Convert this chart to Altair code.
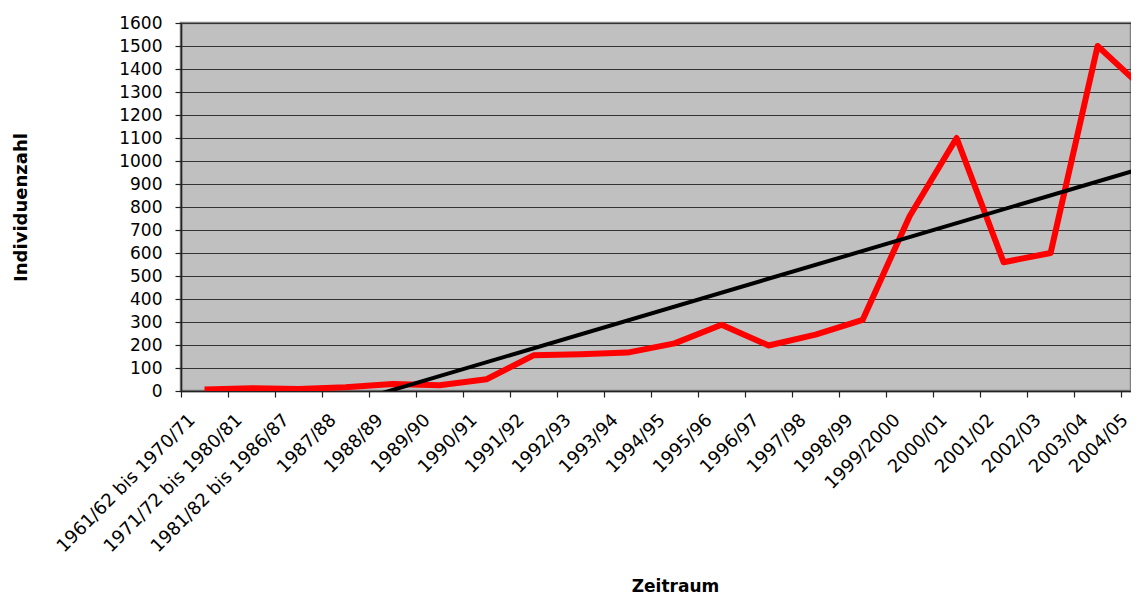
import altair as alt
import pandas as pd

categories = [
    "1961/62 bis 1970/71", "1971/72 bis 1980/81", "1981/82 bis 1986/87",
    "1987/88", "1988/89", "1989/90", "1990/91", "1991/92", "1992/93",
    "1993/94", "1994/95", "1995/96", "1996/97", "1997/98", "1998/99",
    "1999/2000", "2000/01", "2001/02", "2002/03", "2003/04", "2004/05",
]
values = [7, 12, 9, 16, 30, 25, 51, 155, 160, 167, 207, 288, 198, 245, 309,
          760, 1100, 560, 600, 1500, 1310]
y_ticks = list(range(0, 1700, 100))

df = pd.DataFrame({
    "idx": list(range(len(categories))),
    "label": categories,
    "value": values,
})

# category boundaries (Excel puts tick marks between categories)
boundaries = [i - 0.5 for i in range(len(categories))]
label_expr = "[" + ",".join("'" + c + "'" for c in categories) + "][round(datum.value + 0.5)]"

x_scale = alt.Scale(domain=[-0.5, 19.71], nice=False, zero=False)
y_scale = alt.Scale(domain=[0, 1600], nice=False, zero=True)

x_axis = alt.Axis(
    values=boundaries, labelExpr=label_expr, labelAngle=315, labelAlign="right",
    labelBaseline="middle",
    labelOffset={"condition": {"test": "datum.value > 19", "value": 4}, "value": 11},
    labelPadding=20, tickSize=6, labelLimit=500,
    labelOverlap=False, labelFlush=False, labelFontSize=18, grid=False,
    title="Zeitraum", titleX=494, titleY=200, titleFontSize=17,
    titleFontWeight="bold", titleAlign="center", titleBaseline="alphabetic",
)
y_axis = alt.Axis(
    values=y_ticks, format="d", tickSize=6, labelPadding=13, labelFontSize=17,
    grid=True, gridColor="#333333", gridWidth=1,
    title="Individuenzahl", titleFontSize=18, titleFontWeight="bold",
    titleX=-160, titleY=184, titleAngle=270, titleAlign="center",
    titleBaseline="middle",
)

base = alt.Chart(df)

series = base.mark_line(color="#FF0000", strokeWidth=6, clip=True, strokeJoin="round").encode(
    x=alt.X("idx:Q", scale=x_scale, axis=x_axis),
    y=alt.Y("value:Q", scale=y_scale, axis=y_axis),
)

trend = base.transform_regression("idx", "value").mark_line(
    color="black", strokeWidth=4, clip=True
).encode(
    x=alt.X("idx:Q", scale=x_scale, axis=x_axis),
    y=alt.Y("value:Q", scale=y_scale, axis=y_axis),
)

chart = alt.layer(series, trend).properties(
    width=950,
    height=368,
    padding={"left": 173, "top": 15, "right": 0, "bottom": 205},
    autosize=alt.AutoSizeParams(type="none"),
).configure(
    font="DejaVu Sans",
    background="white",
).configure_view(
    stroke="#808080", strokeWidth=2.5, fill="#C0C0C0",
).configure_axis(
    labelFont="DejaVu Sans", titleFont="DejaVu Sans",
    labelColor="black", titleColor="black",
    domainColor="#222222", tickColor="#222222", domainWidth=1.5, tickWidth=1.2,
)

chart.save("out.html", embed_options={"renderer": "svg", "actions": False})
